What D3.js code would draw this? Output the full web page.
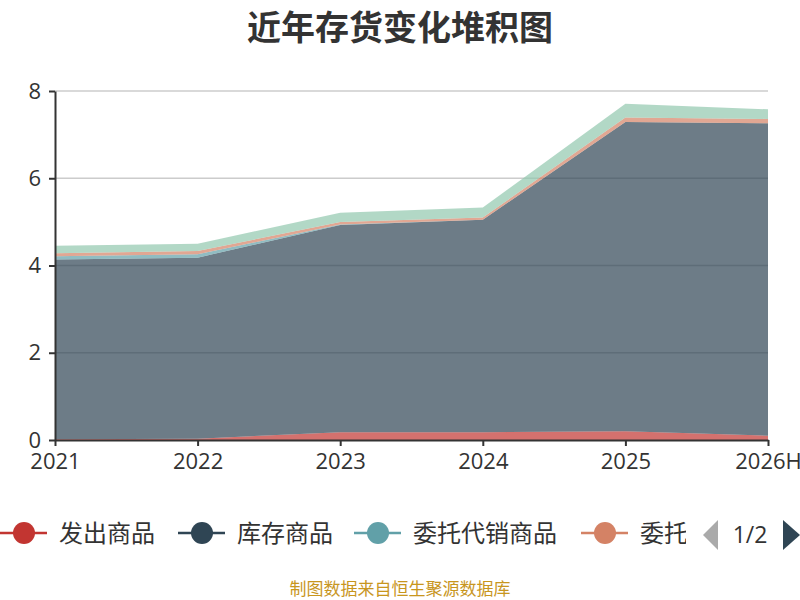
<!DOCTYPE html>
<html>
<head>
<meta charset="utf-8">
<script src="https://cdn.jsdelivr.net/npm/d3@7"></script>
<style>
body{margin:0;background:#fff;}
svg{font-family:"Noto Sans CJK SC","Noto Sans",sans-serif;}
</style>
</head>
<body>
<svg id="chart"></svg>
<script>
//categories and series values
var years = ["2021","2022","2023","2024","2025","2026H"]
var yTicks = [0,2,4,6,8]
var seriesNames = ["发出商品","库存商品","委托代销商品","委托加工物资","原材料"]
var seriesColors = ["#c23531","#2f4554","#61a0a8","#d48265","#91c7ae"]
var faChuShangPin = [0.02,0.03,0.18,0.18,0.20,0.10]
var kuCunShangPin = [4.12,4.15,4.75,4.87,7.09,7.16]
var weiTuoDaiXiao = [0.07,0.08,0.01,0.00,0.00,0.00]
var weiTuoJiaGong = [0.07,0.07,0.06,0.05,0.10,0.10]
var yuanCaiLiao = [0.17,0.17,0.21,0.23,0.32,0.22]

var initChart = function()
{
    var screen = {width:800,height:600}
    var margins = {left:55,right:32,top:91,bottom:160}
    var graph = {
        width:screen.width-margins.left-margins.right,
        height:screen.height-margins.top-margins.bottom
    }

    var svg = d3.select("#chart")
        .attr("width",screen.width)
        .attr("height",screen.height)

    //build rows for the stack
    var allSeries = [faChuShangPin,kuCunShangPin,weiTuoDaiXiao,weiTuoJiaGong,yuanCaiLiao]
    var rows = years.map(function(year,i)
    {
        var row = {year:year}
        seriesNames.forEach(function(name,j){ row[name] = allSeries[j][i] })
        return row
    })
    var stacked = d3.stack().keys(seriesNames)(rows)

    var xScale = d3.scalePoint()
        .domain(years)
        .range([0,graph.width])
    var yScale = d3.scaleLinear()
        .domain([0,8])
        .range([graph.height,0])

    var target = svg.append("g")
        .attr("transform","translate("+margins.left+","+margins.top+")")

    //grid lines
    target.append("g")
        .selectAll("line")
        .data(yTicks.filter(function(t){return t>0}))
        .enter()
        .append("line")
        .attr("x1",0)
        .attr("x2",graph.width)
        .attr("y1",function(t){return yScale(t)})
        .attr("y2",function(t){return yScale(t)})
        .attr("stroke","#ccc")
        .attr("stroke-width",1.5)

    var area = d3.area()
        .x(function(d){return xScale(d.data.year)})
        .y0(function(d){return yScale(d[0])})
        .y1(function(d){return yScale(d[1])})

    target.append("g")
        .selectAll("path")
        .data(stacked)
        .enter()
        .append("path")
        .attr("d",area)
        .attr("fill",function(d,i){return seriesColors[i]})
        .attr("fill-opacity",0.7)

    //axes
    var xAxis = d3.axisBottom(xScale).tickSize(6).tickSizeOuter(0)
    var gx = target.append("g")
        .attr("transform","translate(0,"+graph.height+")")
        .call(xAxis)
    gx.select(".domain").attr("stroke","#333").attr("stroke-width",2)
    gx.selectAll(".tick line").attr("stroke","#333").attr("stroke-width",2)
    gx.selectAll("text")
        .attr("fill","#333")
        .attr("font-size",22)
        .attr("font-family","'Open Sans','DejaVu Sans',sans-serif")
        .attr("dy","0.9em")

    var yAxis = d3.axisLeft(yScale).tickValues(yTicks).tickSize(6).tickSizeOuter(0)
    var gy = target.append("g").call(yAxis)
    gy.select(".domain").attr("stroke","#333").attr("stroke-width",2)
    gy.selectAll(".tick line").attr("stroke","#333").attr("stroke-width",2)
    gy.selectAll("text")
        .attr("fill","#333")
        .attr("font-size",22)
        .attr("font-family","'Open Sans','DejaVu Sans',sans-serif")
        .attr("x",-14)

    //y axis name, mostly off the left edge
    svg.append("text")
        .text("单位：亿元")
        .attr("transform","translate(-8,118) rotate(-90)")
        .attr("text-anchor","middle")
        .attr("font-size",16)
        .attr("fill","#ff0000")

    //title
    svg.append("text")
        .text("近年存货变化堆积图")
        .attr("x",400)
        .attr("y",40)
        .attr("text-anchor","middle")
        .attr("font-size",34)
        .attr("font-weight","bold")
        .attr("fill","#333")

    drawLegend(svg)

    //source
    svg.append("text")
        .text("制图数据来自恒生聚源数据库")
        .attr("x",400)
        .attr("y",595)
        .attr("text-anchor","middle")
        .attr("font-size",17)
        .attr("fill","#c8961e")
}

var drawLegend = function(svg)
{
    svg.append("clipPath")
        .attr("id","legendClip")
        .append("rect")
        .attr("x",0).attr("y",505)
        .attr("width",686).attr("height",60)

    var legend = svg.append("g").attr("clip-path","url(#legendClip)")
    var starts = [0,178,354,581]
    var entries = legend.selectAll("g")
        .data(seriesNames.slice(0,4))
        .enter()
        .append("g")
        .attr("transform",function(d,i){return "translate("+starts[i]+",533)"})

    entries.append("line")
        .attr("x1",0).attr("x2",47)
        .attr("stroke",function(d,i){return seriesColors[i]})
        .attr("stroke-width",2.5)
    entries.append("circle")
        .attr("cx",24).attr("r",11)
        .attr("fill",function(d,i){return seriesColors[i]})
    entries.append("text")
        .text(function(d){return d})
        .attr("x",59)
        .attr("y",9)
        .attr("font-size",24)
        .attr("fill","#333")

    //pager
    svg.append("path")
        .attr("d","M718,520 L703,535 L718,550 Z")
        .attr("fill","#aaa")
    svg.append("text")
        .text("1/2")
        .attr("x",750)
        .attr("y",543)
        .attr("text-anchor","middle")
        .attr("font-size",23)
        .attr("font-family","'Liberation Sans Narrow','Open Sans',sans-serif")
        .attr("fill","#333")
    svg.append("path")
        .attr("d","M783,520 L800,535 L783,550 Z")
        .attr("fill","#2f4554")
}

initChart()
</script>
</body>
</html>
